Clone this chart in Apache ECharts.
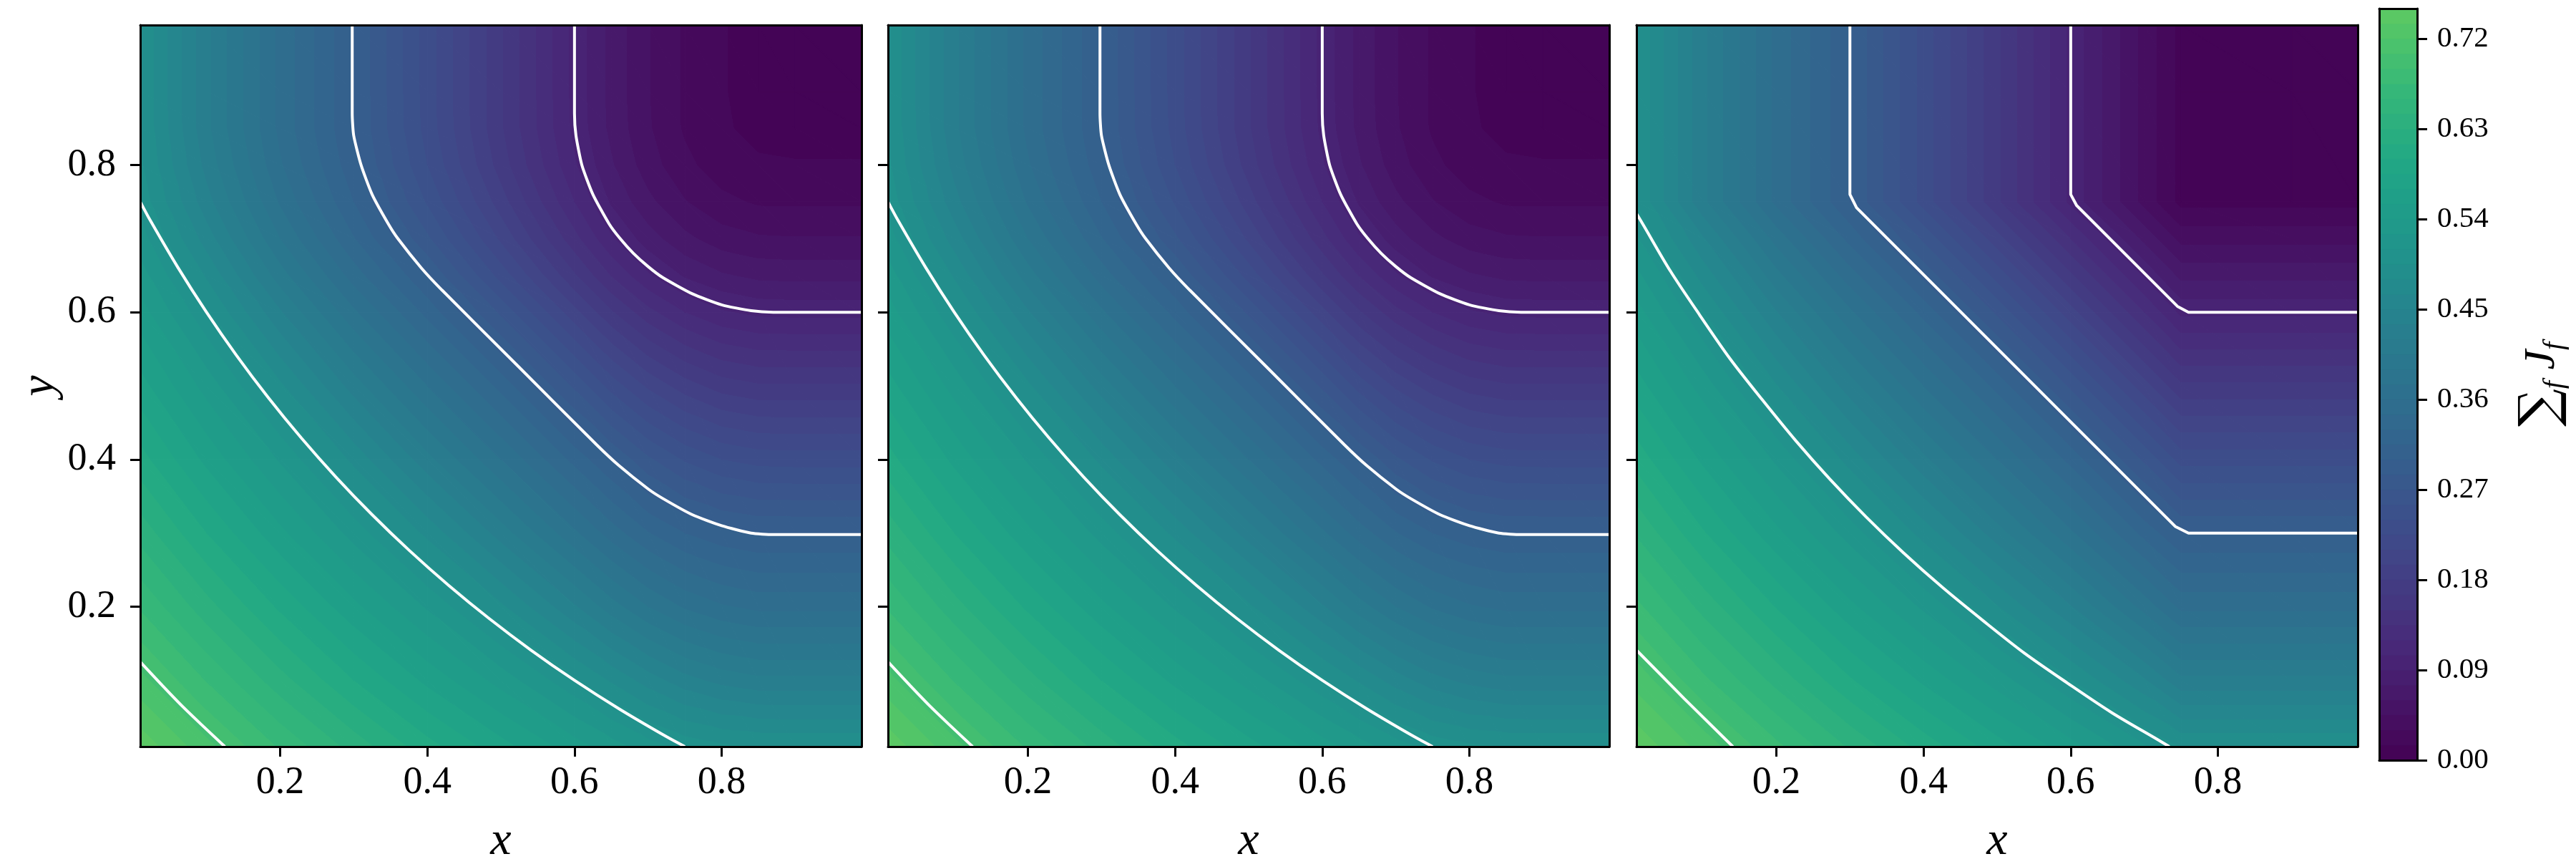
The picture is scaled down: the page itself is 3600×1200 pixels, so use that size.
<!DOCTYPE html>
<html>
<head>
<meta charset="utf-8">
<script src="https://cdn.jsdelivr.net/npm/echarts@6/dist/echarts.min.js"></script>
<style>
html,body{margin:0;padding:0;background:#ffffff;}
#chart{width:3600px;height:1200px;}
</style>
</head>
<body>
<div id="chart"></div>
<script>
// ---------------- data ----------------
// sample positions of the value grids (x and y use the same positions)
const gridPos1 = [0.01, 0.1, 0.2, 0.3, 0.4, 0.5, 0.6, 0.65, 0.7, 0.75, 0.8, 0.85, 0.9, 0.99];
const gridPos2 = [0.01, 0.1, 0.2, 0.3, 0.4, 0.5, 0.6, 0.65, 0.7, 0.75, 0.8, 0.85, 0.9, 0.99];
const gridPos3 = [0.01, 0.1, 0.2, 0.3, 0.4, 0.5, 0.6, 0.7, 0.75, 0.9, 0.99];

// Σ_f J_f values, rows = y positions (bottom to top), columns = x positions
const sumJ1 = [
  [0.745,0.710,0.673,0.639,0.606,0.576,0.547,0.532,0.517,0.505,0.498,0.495,0.494,0.494],
  [0.710,0.674,0.636,0.600,0.566,0.534,0.498,0.478,0.458,0.441,0.430,0.424,0.424,0.424],
  [0.673,0.636,0.597,0.559,0.523,0.483,0.437,0.412,0.390,0.373,0.362,0.356,0.356,0.356],
  [0.639,0.600,0.559,0.519,0.476,0.428,0.378,0.353,0.331,0.315,0.305,0.300,0.300,0.300],
  [0.606,0.566,0.523,0.476,0.425,0.375,0.325,0.300,0.273,0.253,0.240,0.234,0.233,0.233],
  [0.576,0.534,0.483,0.428,0.375,0.325,0.267,0.234,0.207,0.187,0.173,0.167,0.167,0.167],
  [0.547,0.498,0.437,0.378,0.325,0.267,0.200,0.167,0.140,0.120,0.107,0.101,0.100,0.100],
  [0.532,0.478,0.412,0.353,0.300,0.234,0.167,0.134,0.107,0.088,0.077,0.071,0.070,0.070],
  [0.517,0.458,0.390,0.331,0.273,0.207,0.140,0.107,0.082,0.064,0.052,0.047,0.046,0.046],
  [0.505,0.441,0.373,0.315,0.253,0.187,0.120,0.088,0.064,0.046,0.034,0.028,0.028,0.028],
  [0.498,0.430,0.362,0.305,0.240,0.173,0.107,0.077,0.052,0.034,0.022,0.017,0.016,0.016],
  [0.495,0.424,0.356,0.300,0.234,0.167,0.101,0.071,0.047,0.028,0.017,0.011,0.010,0.010],
  [0.494,0.424,0.356,0.300,0.233,0.167,0.100,0.070,0.046,0.028,0.016,0.010,0.010,0.010],
  [0.494,0.424,0.356,0.300,0.233,0.167,0.100,0.070,0.046,0.028,0.016,0.010,0.010,0.010]
];
const sumJ2 = [
  [0.745,0.710,0.673,0.639,0.606,0.576,0.547,0.532,0.517,0.505,0.498,0.495,0.494,0.494],
  [0.710,0.674,0.636,0.600,0.566,0.534,0.498,0.478,0.458,0.441,0.430,0.424,0.424,0.424],
  [0.673,0.636,0.597,0.559,0.523,0.483,0.437,0.412,0.390,0.373,0.362,0.356,0.356,0.356],
  [0.639,0.600,0.559,0.519,0.476,0.428,0.378,0.353,0.331,0.315,0.305,0.300,0.300,0.300],
  [0.606,0.566,0.523,0.476,0.425,0.375,0.325,0.300,0.273,0.253,0.240,0.234,0.233,0.233],
  [0.576,0.534,0.483,0.428,0.375,0.325,0.267,0.234,0.207,0.187,0.173,0.167,0.167,0.167],
  [0.547,0.498,0.437,0.378,0.325,0.267,0.200,0.167,0.140,0.120,0.107,0.101,0.100,0.100],
  [0.532,0.478,0.412,0.353,0.300,0.234,0.167,0.134,0.107,0.088,0.077,0.071,0.070,0.070],
  [0.517,0.458,0.390,0.331,0.273,0.207,0.140,0.107,0.082,0.064,0.052,0.047,0.046,0.046],
  [0.505,0.441,0.373,0.315,0.253,0.187,0.120,0.088,0.064,0.046,0.034,0.028,0.028,0.028],
  [0.498,0.430,0.362,0.305,0.240,0.173,0.107,0.077,0.052,0.034,0.022,0.017,0.016,0.016],
  [0.495,0.424,0.356,0.300,0.234,0.167,0.101,0.071,0.047,0.028,0.017,0.011,0.010,0.010],
  [0.494,0.424,0.356,0.300,0.233,0.167,0.100,0.070,0.046,0.028,0.016,0.010,0.010,0.010],
  [0.494,0.424,0.356,0.300,0.233,0.167,0.100,0.070,0.046,0.028,0.016,0.010,0.010,0.010]
];
const sumJ3 = [
  [0.746,0.714,0.679,0.643,0.609,0.577,0.546,0.512,0.494,0.494,0.494],
  [0.714,0.679,0.640,0.602,0.567,0.533,0.496,0.452,0.424,0.424,0.424],
  [0.679,0.640,0.599,0.559,0.522,0.481,0.436,0.384,0.356,0.356,0.356],
  [0.643,0.602,0.559,0.518,0.474,0.427,0.378,0.325,0.300,0.300,0.300],
  [0.609,0.567,0.522,0.474,0.424,0.375,0.325,0.267,0.234,0.234,0.234],
  [0.577,0.533,0.481,0.427,0.375,0.325,0.267,0.201,0.168,0.168,0.168],
  [0.546,0.496,0.436,0.378,0.325,0.267,0.201,0.135,0.101,0.101,0.101],
  [0.512,0.452,0.384,0.325,0.267,0.201,0.135,0.071,0.040,0.040,0.040],
  [0.494,0.424,0.356,0.300,0.234,0.168,0.101,0.040,0.010,0.010,0.010],
  [0.494,0.424,0.356,0.300,0.234,0.168,0.101,0.040,0.010,0.010,0.010],
  [0.494,0.424,0.356,0.300,0.234,0.168,0.101,0.040,0.010,0.010,0.010]
];

// filled-contour levels and colorbar ticks
const fillLevels = [0.000,0.015,0.030,0.045,0.060,0.075,0.090,0.105,0.120,0.135,0.150,0.165,0.180,0.195,0.210,0.225,0.240,0.255,0.270,0.285,0.300,0.315,0.330,0.345,0.360,0.375,0.390,0.405,0.420,0.435,0.450,0.465,0.480,0.495,0.510,0.525,0.540,0.555,0.570,0.585,0.600,0.615,0.630,0.645,0.660,0.675,0.690,0.705,0.720,0.735,0.750];
const colorbarTicks = [0.00,0.09,0.18,0.27,0.36,0.45,0.54,0.63,0.72];
const axisTicks = [0.2, 0.4, 0.6, 0.8];

// white contour lines (levels 0.1, 0.3, 0.5, 0.7)
const p1Line010 = [[0.600,0.990],[0.600,0.870],[0.602,0.840],[0.610,0.800],[0.625,0.760],[0.647,0.720],[0.662,0.700],[0.680,0.680],[0.700,0.662],[0.720,0.647],[0.760,0.625],[0.800,0.610],[0.840,0.602],[0.870,0.600],[0.990,0.600]];
const p1Line030 = [[0.298,0.990],[0.298,0.870],[0.300,0.840],[0.310,0.800],[0.325,0.760],[0.347,0.720],[0.360,0.700],[0.392,0.660],[0.420,0.630],[0.525,0.525],[0.630,0.420],[0.660,0.392],[0.700,0.360],[0.720,0.347],[0.760,0.325],[0.800,0.310],[0.840,0.300],[0.870,0.298],[0.990,0.298]];
const p1Line050 = [[0.010,0.750],[0.024,0.724],[0.061,0.661],[0.100,0.600],[0.141,0.541],[0.184,0.484],[0.229,0.429],[0.276,0.376],[0.325,0.325],[0.376,0.276],[0.429,0.229],[0.484,0.184],[0.541,0.141],[0.600,0.100],[0.661,0.061],[0.724,0.024],[0.750,0.010]];
const p1Line070 = [[0.010,0.125],[0.040,0.093],[0.066,0.066],[0.093,0.040],[0.125,0.010]];

const p2Line010 = [[0.600,0.990],[0.600,0.870],[0.602,0.840],[0.610,0.800],[0.625,0.760],[0.647,0.720],[0.662,0.700],[0.680,0.680],[0.700,0.662],[0.720,0.647],[0.760,0.625],[0.800,0.610],[0.840,0.602],[0.870,0.600],[0.990,0.600]];
const p2Line030 = [[0.298,0.990],[0.298,0.870],[0.300,0.840],[0.310,0.800],[0.325,0.760],[0.347,0.720],[0.360,0.700],[0.392,0.660],[0.420,0.630],[0.525,0.525],[0.630,0.420],[0.660,0.392],[0.700,0.360],[0.720,0.347],[0.760,0.325],[0.800,0.310],[0.840,0.300],[0.870,0.298],[0.990,0.298]];
const p2Line050 = [[0.010,0.750],[0.024,0.724],[0.061,0.661],[0.100,0.600],[0.141,0.541],[0.184,0.484],[0.229,0.429],[0.276,0.376],[0.325,0.325],[0.376,0.276],[0.429,0.229],[0.484,0.184],[0.541,0.141],[0.600,0.100],[0.661,0.061],[0.724,0.024],[0.750,0.010]];
const p2Line070 = [[0.010,0.125],[0.040,0.093],[0.066,0.066],[0.093,0.040],[0.125,0.010]];

const p3Line010 = [[0.600,0.990],[0.600,0.760],[0.608,0.745],[0.745,0.608],[0.760,0.600],[0.990,0.600]];
const p3Line030 = [[0.300,0.990],[0.300,0.760],[0.309,0.742],[0.742,0.309],[0.760,0.300],[0.990,0.300]];
const p3Line050 = [[0.010,0.734],[0.019,0.719],[0.056,0.656],[0.096,0.596],[0.137,0.537],[0.181,0.481],[0.226,0.426],[0.273,0.373],[0.322,0.322],[0.373,0.273],[0.426,0.226],[0.481,0.181],[0.537,0.137],[0.596,0.096],[0.656,0.056],[0.719,0.019],[0.734,0.010]];
const p3Line070 = [[0.010,0.141],[0.075,0.075],[0.141,0.010]];

// ---------------- colormap (viridis) ----------------
const VIRIDIS = [
  [0.000,'#440154'],[0.100,'#482475'],[0.111,'#482878'],[0.200,'#414487'],[0.222,'#3e4a89'],
  [0.250,'#3b528b'],[0.300,'#355f8d'],[0.333,'#31688e'],[0.400,'#2a788e'],[0.444,'#26828e'],
  [0.500,'#21918c'],[0.556,'#1f9e89'],[0.600,'#22a884'],[0.667,'#35b779'],[0.700,'#44bf70'],
  [0.750,'#5ec962'],[0.778,'#6dcd59'],[0.800,'#7ad151'],[0.889,'#b4de2c'],[0.900,'#bddf26'],[1.000,'#fde725']
];
function hexRgb(h){return [parseInt(h.slice(1,3),16),parseInt(h.slice(3,5),16),parseInt(h.slice(5,7),16)];}
function viridis(t){
  t=Math.max(0,Math.min(1,t));
  for(let i=1;i<VIRIDIS.length;i++){
    if(t<=VIRIDIS[i][0]){
      const a=VIRIDIS[i-1],b=VIRIDIS[i];
      const f=(t-a[0])/(b[0]-a[0]);
      const ca=hexRgb(a[1]),cb=hexRgb(b[1]);
      const c=ca.map((v,k)=>Math.round(v+(cb[k]-v)*f));
      return 'rgb('+c.join(',')+')';
    }
  }
  return VIRIDIS[VIRIDIS.length-1][1];
}
function bandColor(v){
  let k=0;
  for(let i=0;i<fillLevels.length-1;i++){ if(v>=fillLevels[i]) k=i; }
  return viridis((fillLevels[k]+fillLevels[k+1])/2);
}

// linear shading of a triangle, banded at the fill levels
function shade(P,V){
  const vmin=Math.min(V[0],V[1],V[2]), vmax=Math.max(V[0],V[1],V[2]);
  if(vmax-vmin<1e-7) return bandColor(V[0]);
  const e1x=P[1][0]-P[0][0], e1y=P[1][1]-P[0][1], e2x=P[2][0]-P[0][0], e2y=P[2][1]-P[0][1];
  const d1=V[1]-V[0], d2=V[2]-V[0];
  const det=e1x*e2y-e1y*e2x;
  if(Math.abs(det)<1e-9) return bandColor(V[0]);
  const gx=(d1*e2y-d2*e1y)/det, gy=(d2*e1x-d1*e2x)/det;
  const g2=gx*gx+gy*gy;
  const ax=P[0][0]+gx*(vmin-V[0])/g2, ay=P[0][1]+gy*(vmin-V[0])/g2;
  const bx=P[0][0]+gx*(vmax-V[0])/g2, by=P[0][1]+gy*(vmax-V[0])/g2;
  const stops=[{offset:0,color:bandColor(vmin+1e-9)}];
  for(const L of fillLevels){
    if(L>vmin && L<vmax){
      const o=(L-vmin)/(vmax-vmin);
      stops.push({offset:o,color:bandColor(L-1e-9)});
      stops.push({offset:o,color:bandColor(L+1e-9)});
    }
  }
  stops.push({offset:1,color:bandColor(vmax-1e-9)});
  return {type:'linear',x:ax,y:ay,x2:bx,y2:by,colorStops:stops,global:true};
}
function tri(P,V){
  const f=shade(P,V);
  return {type:'polygon',shape:{points:P},style:{fill:f,stroke:f,lineWidth:1.2}};
}
function renderCell(params,api){
  const x0=api.value(0),y0=api.value(1),x1=api.value(2),y1=api.value(3);
  const v00=api.value(4),v10=api.value(5),v01=api.value(6),v11=api.value(7);
  const p00=api.coord([x0,y0]),p10=api.coord([x1,y0]),p01=api.coord([x0,y1]),p11=api.coord([x1,y1]);
  return {type:'group',children:[tri([p00,p10,p01],[v00,v10,v01]),tri([p11,p01,p10],[v11,v01,v10])]};
}
function cellsFrom(pos,Z){
  const out=[];
  for(let j=0;j<pos.length-1;j++){
    for(let i=0;i<pos.length-1;i++){
      out.push([pos[i],pos[j],pos[i+1],pos[j+1],Z[j][i],Z[j][i+1],Z[j+1][i],Z[j+1][i+1]]);
    }
  }
  return out;
}

// ---------------- layout ----------------
const FONT='Liberation Serif';
const panelLeft=[196,1241,2287];
const panelTop=35, panelSize=1008;

const grids=panelLeft.map(l=>({left:l,top:panelTop,width:panelSize,height:panelSize,containLabel:false,outerBoundsMode:'none'}));
grids.push({left:3325,top:12,width:53,height:1050,containLabel:false,outerBoundsMode:'none'});

const lineStyleAxis={color:'#000',width:3};
const xAxes=[],yAxes=[];
for(let k=0;k<3;k++){
  xAxes.push({
    gridIndex:k,type:'value',min:0.01,max:0.99,position:'bottom',z:5,
    axisLine:{show:true,onZero:false,lineStyle:lineStyleAxis},
    axisTick:{show:true,length:14,lineStyle:{color:'#000',width:3},customValues:axisTicks},
    axisLabel:{show:true,customValues:axisTicks,fontFamily:FONT,fontSize:54,color:'#000',margin:24,formatter:v=>String(+v.toFixed(1))},
    splitLine:{show:false},
    name:'x',nameLocation:'middle',nameGap:100,
    nameTextStyle:{fontFamily:FONT,fontStyle:'italic',fontSize:66,color:'#000'}
  });
  xAxes.push({
    gridIndex:k,type:'value',min:0.01,max:0.99,position:'top',z:5,
    axisLine:{show:true,onZero:false,lineStyle:lineStyleAxis},
    axisTick:{show:false},axisLabel:{show:false},splitLine:{show:false}
  });
  yAxes.push({
    gridIndex:k,type:'value',min:0.01,max:0.99,position:'left',z:5,
    axisLine:{show:true,onZero:false,lineStyle:lineStyleAxis},
    axisTick:{show:true,length:14,lineStyle:{color:'#000',width:3},customValues:axisTicks},
    axisLabel:{show:k===0,customValues:axisTicks,fontFamily:FONT,fontSize:54,color:'#000',margin:34,formatter:v=>String(+v.toFixed(1))},
    splitLine:{show:false},
    name:k===0?'y':'',nameLocation:'middle',nameGap:106,nameRotate:90,
    nameTextStyle:{fontFamily:FONT,fontStyle:'italic',fontSize:66,color:'#000'}
  });
  yAxes.push({
    gridIndex:k,type:'value',min:0.01,max:0.99,position:'right',z:5,
    axisLine:{show:true,onZero:false,lineStyle:lineStyleAxis},
    axisTick:{show:false},axisLabel:{show:false},splitLine:{show:false}
  });
}
// colorbar axes
xAxes.push({gridIndex:3,type:'value',min:0,max:1,position:'bottom',z:5,axisLine:{show:true,onZero:false,lineStyle:lineStyleAxis},axisTick:{show:false},axisLabel:{show:false},splitLine:{show:false}});
xAxes.push({gridIndex:3,type:'value',min:0,max:1,position:'top',z:5,axisLine:{show:true,onZero:false,lineStyle:lineStyleAxis},axisTick:{show:false},axisLabel:{show:false},splitLine:{show:false}});
yAxes.push({
  gridIndex:3,type:'value',min:0,max:0.75,position:'right',z:5,
  axisLine:{show:true,onZero:false,lineStyle:lineStyleAxis},
  axisTick:{show:true,length:14,lineStyle:{color:'#000',width:3},customValues:colorbarTicks},
  axisLabel:{show:true,customValues:colorbarTicks,fontFamily:FONT,fontSize:41,color:'#000',margin:28,formatter:v=>v.toFixed(2)},
  splitLine:{show:false},
  name:'{s|∑}{b|f}{j| J}{b|f}',nameLocation:'middle',nameGap:138,nameRotate:90,
  nameTextStyle:{
    color:'#000',
    rich:{
      s:{fontFamily:'DejaVu Serif',fontSize:74,color:'#000'},
      j:{fontFamily:FONT,fontStyle:'italic',fontSize:62,color:'#000'},
      b:{fontFamily:FONT,fontStyle:'italic',fontSize:40,color:'#000',verticalAlign:'bottom'}
    }
  }
});
yAxes.push({gridIndex:3,type:'value',min:0,max:0.75,position:'left',z:5,axisLine:{show:true,onZero:false,lineStyle:lineStyleAxis},axisTick:{show:false},axisLabel:{show:false},splitLine:{show:false}});

const series=[];
const panels=[
  {pos:gridPos1,Z:sumJ1,lines:[p1Line010,p1Line030,p1Line050,p1Line070],smooth:[0.2,0.2,0.3,0.2]},
  {pos:gridPos2,Z:sumJ2,lines:[p2Line010,p2Line030,p2Line050,p2Line070],smooth:[0.2,0.2,0.3,0.2]},
  {pos:gridPos3,Z:sumJ3,lines:[p3Line010,p3Line030,p3Line050,p3Line070],smooth:[false,false,0.3,false]}
];
panels.forEach((p,k)=>{
  series.push({
    type:'custom',xAxisIndex:2*k,yAxisIndex:2*k,z:1,silent:true,
    encode:{x:[0,2],y:[1,3]},
    renderItem:renderCell,data:cellsFrom(p.pos,p.Z),clip:true
  });
  p.lines.forEach((ln,m)=>{
    series.push({
      type:'line',xAxisIndex:2*k,yAxisIndex:2*k,z:3,silent:true,
      data:ln,symbol:'none',smooth:p.smooth[m],
      lineStyle:{color:'#ffffff',width:4}
    });
  });
});
// colorbar bands
const cbBands=[];
for(let i=0;i<fillLevels.length-1;i++) cbBands.push([fillLevels[i],fillLevels[i+1]]);
series.push({
  type:'custom',xAxisIndex:6,yAxisIndex:6,z:1,silent:true,
  encode:{y:[0,1]},
  data:cbBands,
  renderItem:function(params,api){
    const lo=api.value(0),hi=api.value(1);
    const a=api.coord([0,lo]),b=api.coord([1,hi]);
    const c=viridis((lo+hi)/2);
    return {type:'rect',shape:{x:a[0],y:b[1],width:b[0]-a[0],height:a[1]-b[1]},style:{fill:c,stroke:c,lineWidth:0.8}};
  }
});

const chart=echarts.init(document.getElementById('chart'),null,{renderer:'canvas',width:3600,height:1200});
chart.setOption({
  animation:false,
  backgroundColor:'#ffffff',
  grid:grids,
  xAxis:xAxes,
  yAxis:yAxes,
  series:series
});
</script>
</body>
</html>
